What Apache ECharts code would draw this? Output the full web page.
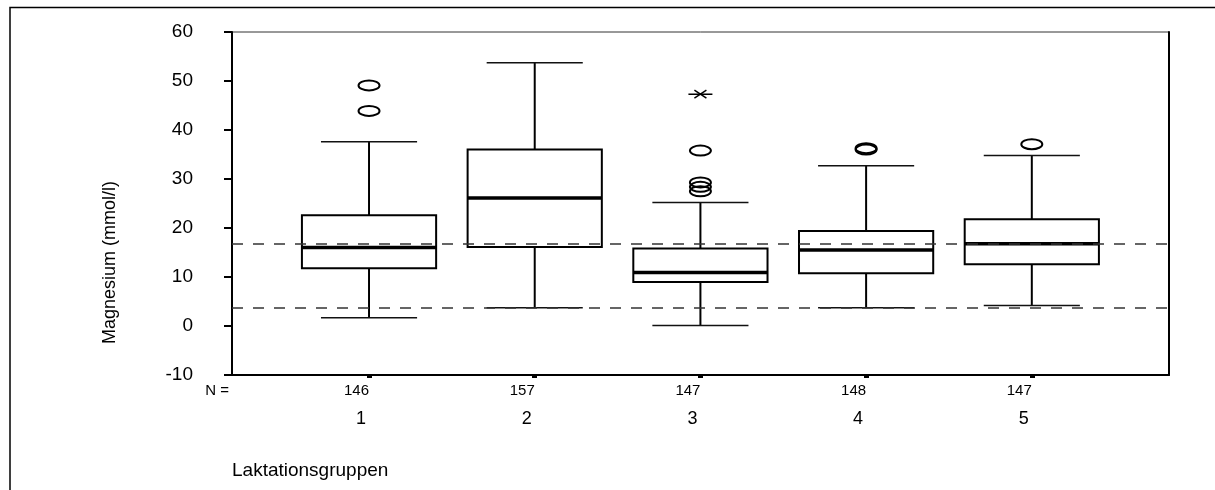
<!DOCTYPE html>
<html>
<head>
<meta charset="utf-8">
<script src="https://cdn.jsdelivr.net/npm/echarts@6/dist/echarts.min.js"></script>
<style>
  html, body { margin: 0; padding: 0; background: #fff; }
  #chart { width: 1215px; height: 490px; }
</style>
</head>
<body>
<div id="chart"></div>
<script>
// Magnesium (mmol/l) per lactation group: box plot summaries
const groups = [1, 2, 3, 4, 5];
const groupLabels = ['1', '2', '3', '4', '5'];
const counts = [146, 157, 147, 148, 147];
const whiskerLow = [1.7, 3.7, 0.1, 3.7, 4.2];
const quartile1 = [11.8, 16.1, 9.0, 10.75, 12.6];
const medians = [16.0, 26.1, 10.9, 15.5, 16.8];
const quartile3 = [22.6, 36.0, 15.8, 19.4, 21.8];
const whiskerHigh = [37.6, 53.7, 25.2, 32.7, 34.8];
// outliers (circles) and extreme values (asterisks): [group, value]
const outliers = [[1, 49.1], [1, 43.9], [3, 35.8], [3, 29.3], [3, 28.4], [3, 27.5], [4, 36.0], [4, 36.3], [5, 37.1]];
const extremes = [[3, 47.3]];
// reference range limits
const referenceLines = [16.7, 3.7];
const yMin = -10, yMax = 60, yStep = 10;
const xMin = 0.173, xMax = 5.828;

const FONT = '"Liberation Sans", Arial, sans-serif';
const chart = echarts.init(document.getElementById('chart'), null, { renderer: 'canvas' });

const boxData = groups.map((g, i) => [g, whiskerLow[i], quartile1[i], medians[i], quartile3[i], whiskerHigh[i]]);

function renderBox(params, api) {
  const x = api.value(0);
  const lo = api.coord([x, api.value(1)]);
  const q1 = api.coord([x, api.value(2)]);
  const md = api.coord([x, api.value(3)]);
  const q3 = api.coord([x, api.value(4)]);
  const hi = api.coord([x, api.value(5)]);
  const unit = api.size([1, 0])[0];
  const bw = unit * 0.405;
  const cw = unit * 0.29;
  const cx = lo[0];
  const stem = { stroke: '#000', lineWidth: 2 };
  const cap = { stroke: '#111', lineWidth: 1.5 };
  return {
    type: 'group',
    children: [
      { type: 'line', shape: { x1: cx, y1: hi[1], x2: cx, y2: q3[1] }, style: stem },
      { type: 'line', shape: { x1: cx, y1: q1[1], x2: cx, y2: lo[1] }, style: stem },
      { type: 'line', shape: { x1: cx - cw, y1: hi[1], x2: cx + cw, y2: hi[1] }, style: cap },
      { type: 'line', shape: { x1: cx - cw, y1: lo[1], x2: cx + cw, y2: lo[1] }, style: cap },
      { type: 'rect', shape: { x: cx - bw, y: q3[1], width: 2 * bw, height: q1[1] - q3[1] },
        style: { fill: 'none', stroke: '#000', lineWidth: 2 } },
      { type: 'line', shape: { x1: cx - bw, y1: md[1], x2: cx + bw, y2: md[1] },
        style: { stroke: '#000', lineWidth: 3.5 } }
    ]
  };
}

function renderOutlier(params, api) {
  const p = api.coord([api.value(0), api.value(1)]);
  return {
    type: 'ellipse',
    shape: { cx: p[0], cy: p[1], rx: 10.5, ry: 5 },
    style: { fill: 'none', stroke: '#000', lineWidth: 2 }
  };
}

function renderExtreme(params, api) {
  const p = api.coord([api.value(0), api.value(1)]);
  const s = { stroke: '#000', lineWidth: 1.5 };
  return {
    type: 'group',
    children: [
      { type: 'line', shape: { x1: p[0] - 12, y1: p[1], x2: p[0] + 12, y2: p[1] }, style: s },
      { type: 'line', shape: { x1: p[0] - 6, y1: p[1] - 4, x2: p[0] + 6, y2: p[1] + 4 }, style: s },
      { type: 'line', shape: { x1: p[0] - 6, y1: p[1] + 4, x2: p[0] + 6, y2: p[1] - 4 }, style: s }
    ]
  };
}

const option = {
  animation: false,
  backgroundColor: '#fff',
  textStyle: { fontFamily: FONT, color: '#000' },
  grid: {
    left: 232, top: 32, right: 46, bottom: 115,
    show: true, borderColor: '#333', borderWidth: 1,
    outerBoundsMode: 'none'
  },
  xAxis: [
    {
      type: 'value', min: xMin, max: xMax, position: 'bottom',
      axisLine: { show: true, onZero: false, lineStyle: { color: '#000', width: 2 } },
      axisTick: { show: true, customValues: groups, length: 3, lineStyle: { color: '#000', width: 5 } },
      axisLabel: {
        show: true, customValues: groups, margin: 8, align: 'right',
        fontFamily: FONT, fontSize: 15, color: '#000',
        formatter: v => String(counts[groups.indexOf(v)])
      },
      splitLine: { show: false }
    },
    {
      type: 'value', min: xMin, max: xMax, position: 'bottom',
      axisLine: { show: false }, axisTick: { show: false },
      axisLabel: {
        show: true, customValues: groups, margin: 35, align: 'center',
        padding: [0, 16, 0, 0],
        fontFamily: FONT, fontSize: 18, color: '#000',
        formatter: v => groupLabels[groups.indexOf(v)]
      },
      splitLine: { show: false }
    }
  ],
  yAxis: [
    {
      type: 'value', min: yMin, max: yMax, interval: yStep, position: 'left',
      axisLine: { show: true, onZero: false, lineStyle: { color: '#000', width: 2 } },
      axisTick: { show: true, length: 8, lineStyle: { color: '#000', width: 2 } },
      axisLabel: { margin: 39, fontFamily: FONT, fontSize: 19, color: '#000' },
      splitLine: { show: false }
    },
    {
      type: 'value', min: yMin, max: yMax, interval: yStep, position: 'right',
      axisLine: { show: true, onZero: false, lineStyle: { color: '#000', width: 2 } },
      axisTick: { show: false }, axisLabel: { show: false }, splitLine: { show: false }
    }
  ],
  series: [
    {
      name: 'Magnesium', type: 'custom', renderItem: renderBox,
      data: boxData, encode: { x: 0, y: [1, 2, 3, 4, 5] }, z: 3,
      markLine: {
        silent: true, symbol: 'none', label: { show: false },
        lineStyle: { type: [11, 10], color: '#333', width: 1.5 },
        data: referenceLines.map(v => ({ yAxis: v }))
      }
    },
    {
      name: 'Ausreißer', type: 'custom', renderItem: renderOutlier,
      data: outliers, encode: { x: 0, y: 1 }, z: 4
    },
    {
      name: 'Extremwerte', type: 'custom', renderItem: renderExtreme,
      data: extremes, encode: { x: 0, y: 1 }, z: 4
    }
  ],
  graphic: [
    {
      type: 'polyline', silent: true,
      shape: { points: [[10, 490], [10, 7.5], [1215, 7.5]] },
      style: { fill: 'none', stroke: '#000', lineWidth: 1.5 }
    },
    {
      type: 'text', left: 110 - 9, top: 263 - 82, silent: true,
      rotation: Math.PI / 2,
      style: { text: 'Magnesium (mmol/l)', fontFamily: FONT, fontSize: 18, fill: '#000' }
    },
    {
      type: 'text', x: 229, y: 383, silent: true,
      style: { text: 'N =', fontFamily: FONT, fontSize: 15, fill: '#000', align: 'right', verticalAlign: 'top' }
    },
    {
      type: 'text', x: 232, y: 461, silent: true,
      style: { text: 'Laktationsgruppen', fontFamily: FONT, fontSize: 19, fill: '#000', align: 'left', verticalAlign: 'top' }
    }
  ]
};

chart.setOption(option);
</script>
</body>
</html>
